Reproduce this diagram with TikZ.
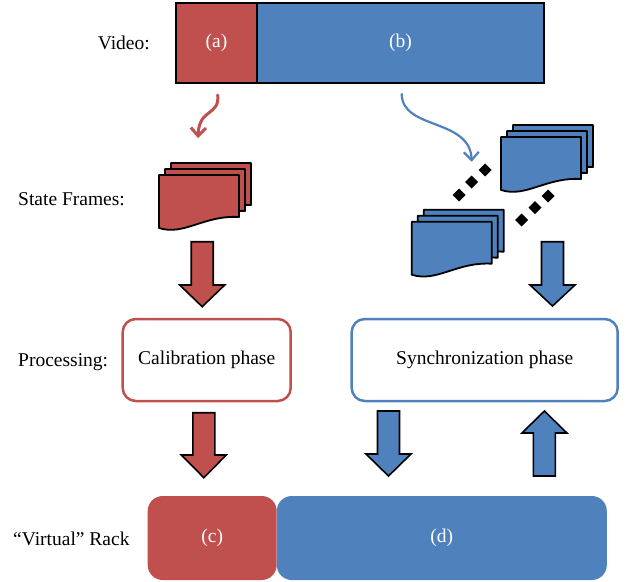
\documentclass[tikz,border=0pt]{standalone}
\usepackage{fontspec}
\setmainfont{Liberation Serif}
\usetikzlibrary{arrows.meta}
\definecolor{rackred}{HTML}{C0504D}
\definecolor{rackblue}{HTML}{4F81BD}
\tikzset{
  lbl/.style={anchor=base west, inner sep=0pt},
  seg/.style={draw=black, line width=1.8pt, minimum height=80pt, inner sep=0pt, text=white},
  procbox/.style={draw, fill=white, line width=2.5pt, rounded corners=13pt, minimum height=82pt, inner sep=0pt},
  rackbox/.style={rounded corners=15pt, minimum height=84pt, inner sep=0pt, text=white},
  framebox/.style={draw=black, line width=1.8pt, line join=round},
  blockarr/.style={draw=black, line width=1.6pt, line join=miter}
}
% one sheet of a stack, top left corner at (#1,#2)
\newcommand{\sheet}[3]{%
  \draw[framebox, fill=#3] (#1,#2) -- ++(80,0) -- ++(0,42)
     .. controls +(-35,-2) and +(25,8) .. ++(-80,11) -- cycle;}
% three sheets, the front one at (#1,#2)
\newcommand{\stack}[3]{%
  \sheet{#1+12}{#2-12}{#3}\sheet{#1+6}{#2-6}{#3}\sheet{#1}{#2}{#3}}
% block arrow: x, tail y, head base y, tip y, colour
\newcommand{\bigarrow}[5]{%
  \draw[blockarr, fill=#5] (#1-11,#2) -- (#1-11,#3) -- (#1-22.5,#3) -- (#1,#4)
     -- (#1+22.5,#3) -- (#1+11,#3) -- (#1+11,#2) -- cycle;}
\begin{document}
\begin{tikzpicture}[x=1pt,y=-1pt, font=\fontsize{19.5}{23}\selectfont]
  \useasboundingbox (0,0) rectangle (631,581);
  % row labels
  \node[lbl] (lvideo) at (97.7,49) {Video:};
  \node[lbl] (lframes) at (18,205) {State Frames:};
  \node[lbl] (lproc) at (18,366) {Processing:};
  \node[lbl] (lrack) at (13,545) {“Virtual” Rack};
  % video
  \node[seg, fill=rackred, minimum width=81pt] (vida) at (216.5,43) {(a)};
  \node[seg, fill=rackblue, minimum width=287pt] (vidb) at (400.5,43) {(b)};
  % state frames
  \stack{159}{175}{rackred}
  \stack{501}{137}{rackblue}
  \stack{411.7}{221.7}{rackblue}
  \foreach \p in {(459,195),(471.7,182),(485,170),(521.7,220),(535,207.7),(548,196)}
    \fill[black] \p ++(0,-6.5) -- ++(6.5,6.5) -- ++(-6.5,6.5) -- ++(-6.5,-6.5) -- cycle;
  % curved arrows
  \coordinate (atail) at (217.7,95);
  \coordinate (ahead) at (198,138);
  \coordinate (btail) at (401.7,94);
  \coordinate (bhead) at (471.7,161.7);
  \draw[rackred, line width=3pt, line cap=round, -{Straight Barb[length=8pt,width=15pt]}]
    (atail) .. controls (220,116) and (199,108) .. (ahead);
  \draw[rackblue, line width=2.2pt, line cap=round, -{Straight Barb[length=8pt,width=15pt]}]
    (btail) .. controls (402,130) and (470,118) .. (bhead);
  % processing
  \node[procbox, draw=rackred, minimum width=168pt] (calib) at (206.7,360) {Calibration phase};
  \node[procbox, draw=rackblue, minimum width=266pt] (sync) at (484.7,360) {Synchronization phase};
  % block arrows
  \bigarrow{202.2}{241.7}{285}{306.7}{rackred}
  \bigarrow{552.5}{241.7}{285}{306}{rackblue}
  \bigarrow{203.8}{412.7}{455}{477.7}{rackred}
  \bigarrow{388.5}{411}{454}{476}{rackblue}
  \bigarrow{544.4}{476}{433}{411}{rackblue}
  % virtual rack
  \node[rackbox, fill=rackred, minimum width=129pt] (rackc) at (212.2,538) {(c)};
  \node[rackbox, fill=rackblue, minimum width=330pt] (rackd) at (441.8,538) {(d)};
\end{tikzpicture}
\end{document}
